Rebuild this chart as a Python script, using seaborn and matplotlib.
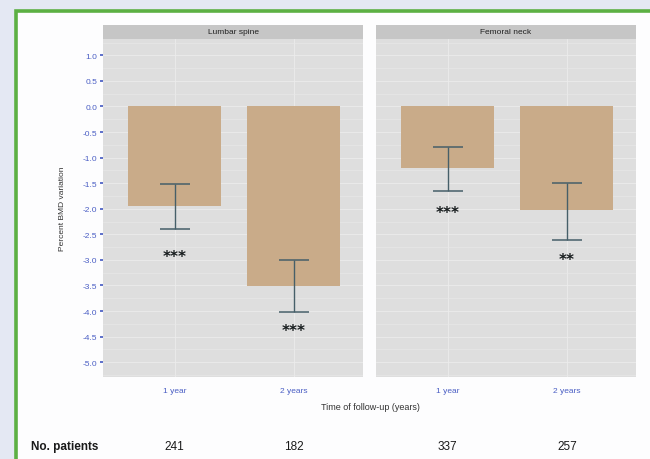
"""
Percent BMD variation by site and time of follow-up, with 95% CI and patient counts.
"""
import numpy as np
import pandas as pd
import matplotlib
matplotlib.use("Agg")
import matplotlib.pyplot as plt
from matplotlib.patches import Rectangle
from matplotlib.ticker import MultipleLocator
import seaborn as sns

sns.set_theme(style="white")
plt.rcParams["font.family"] = ["Liberation Sans Narrow", "Liberation Sans", "DejaVu Sans"]
plt.rcParams["axes.unicode_minus"] = False

# ---------- data ----------
sites = ["Lumbar spine", "Femoral neck"]
times = ["1 year", "2 years"]
mean_change = {"Lumbar spine": [-1.95, -3.51], "Femoral neck": [-1.20, -2.03]}
ci_low = {"Lumbar spine": [-2.40, -4.02], "Femoral neck": [-1.65, -2.61]}
ci_high = {"Lumbar spine": [-1.51, -3.00], "Femoral neck": [-0.79, -1.50]}
signif = {"Lumbar spine": ["***", "***"], "Femoral neck": ["***", "**"]}
signif_y = {"Lumbar spine": [-2.93, -4.38], "Femoral neck": [-2.07, -2.99]}
n_patients = {"Lumbar spine": [241, 182], "Femoral neck": [337, 257]}
y_ticks = [1.0, 0.5, 0.0, -0.5, -1.0, -1.5, -2.0, -2.5, -3.0, -3.5, -4.0, -4.5, -5.0]

bar_color = "#c9ab89"
err_color = "#465f69"
tick_blue = "#4a5ec4"

fig = plt.figure(figsize=(6.5, 4.6), dpi=100)
fig.patch.set_facecolor("#e4e8f3")

# white card with green frame
fig.patches.append(Rectangle((16 / 650, -0.1), 1.1, (460 - 11.5) / 460 + 0.1,
                             transform=fig.transFigure, facecolor="#fdfdfe",
                             edgecolor="#5cb043", linewidth=2.6, zorder=-10))

W, H = 650, 460
panel_left = [103, 376]
panel_w = 260
top_px, bot_px = 40, 378

axes = []
for site, left in zip(sites, panel_left):
    ax = fig.add_axes([left / W, 1 - bot_px / H, panel_w / W, (bot_px - top_px) / H])
    ax.set_facecolor("#dedede")
    df = pd.DataFrame({"time": times, "change": mean_change[site]})
    sns.barplot(data=df, x="time", y="change", color=bar_color, width=0.78,
                errorbar=None, ax=ax, zorder=2, saturation=1, linewidth=0,
                edgecolor="none")
    m = np.array(mean_change[site])
    lo = m - np.array(ci_low[site])
    hi = np.array(ci_high[site]) - m
    ax.errorbar(x=[0, 1], y=m, yerr=[lo, hi], fmt="none", ecolor=err_color,
                elinewidth=1.0, capsize=11, capthick=1.1, zorder=3)
    for i, (s, sy) in enumerate(zip(signif[site], signif_y[site])):
        ax.text(i, sy, s, ha="center", va="center", fontsize=11, fontweight="bold",
                color="#151a1c", family="DejaVu Sans", zorder=4)

    ax.set_xlim(-0.6, 1.58)
    ax.set_ylim(-5.29, 1.32)
    ax.yaxis.set_minor_locator(MultipleLocator(0.25))
    ax.grid(True, which="major", axis="y", color="#ececec", linewidth=0.6, zorder=0)
    ax.grid(True, which="minor", axis="y", color="#e8e8e8", linewidth=0.5, zorder=0)
    ax.grid(True, which="major", axis="x", color="#ececec", linewidth=0.6, zorder=0)
    ax.set_axisbelow(True)
    for sp in ax.spines.values():
        sp.set_visible(False)

    ax.set_xlabel("")
    ax.set_ylabel("")
    ax.tick_params(axis="x", colors=tick_blue, labelsize=6, length=2, pad=5)
    ax.tick_params(axis="y", which="major", colors=tick_blue, labelsize=6, length=2, pad=2,
                   left=(site == sites[0]), labelleft=(site == sites[0]))
    ax.tick_params(axis="y", which="minor", left=False)
    ax.set_yticks(y_ticks)
    ax.set_yticklabels([f"{v:.1f}" for v in y_ticks])

    # facet strip
    strip_h = 14 / (bot_px - top_px)
    ax.add_patch(Rectangle((0, 1.0), 1, strip_h, transform=ax.transAxes,
                           facecolor="#c6c6c6", edgecolor="none", clip_on=False))
    ax.text(0.5, 1 + strip_h / 2, site, transform=ax.transAxes, ha="center",
            va="center", fontsize=6, color="#222222")

    # patient counts under each category
    for i, n in enumerate(n_patients[site]):
        ax.annotate(str(n), xy=(i, 0), xycoords=("data", "figure fraction"),
                    xytext=(0, 13), textcoords="offset pixels", ha="center",
                    va="center", fontsize=8.5, color="#1a1a1a")
    axes.append(ax)

fig.text(62 / W, 1 - 209 / H, "Percent BMD variation", rotation=90, ha="center",
         va="center", fontsize=6, color="#333333")
fig.text(370 / W, 1 - 408 / H, "Time of follow-up (years)", ha="center",
         va="center", fontsize=6.5, color="#333333")
fig.text(31 / W, 1 - 447 / H, "No. patients", ha="left", va="center",
         fontsize=8.5, fontweight="bold", color="#1a1a1a")

fig.savefig("out.png", dpi=100, facecolor=fig.get_facecolor())
plt.close(fig)
